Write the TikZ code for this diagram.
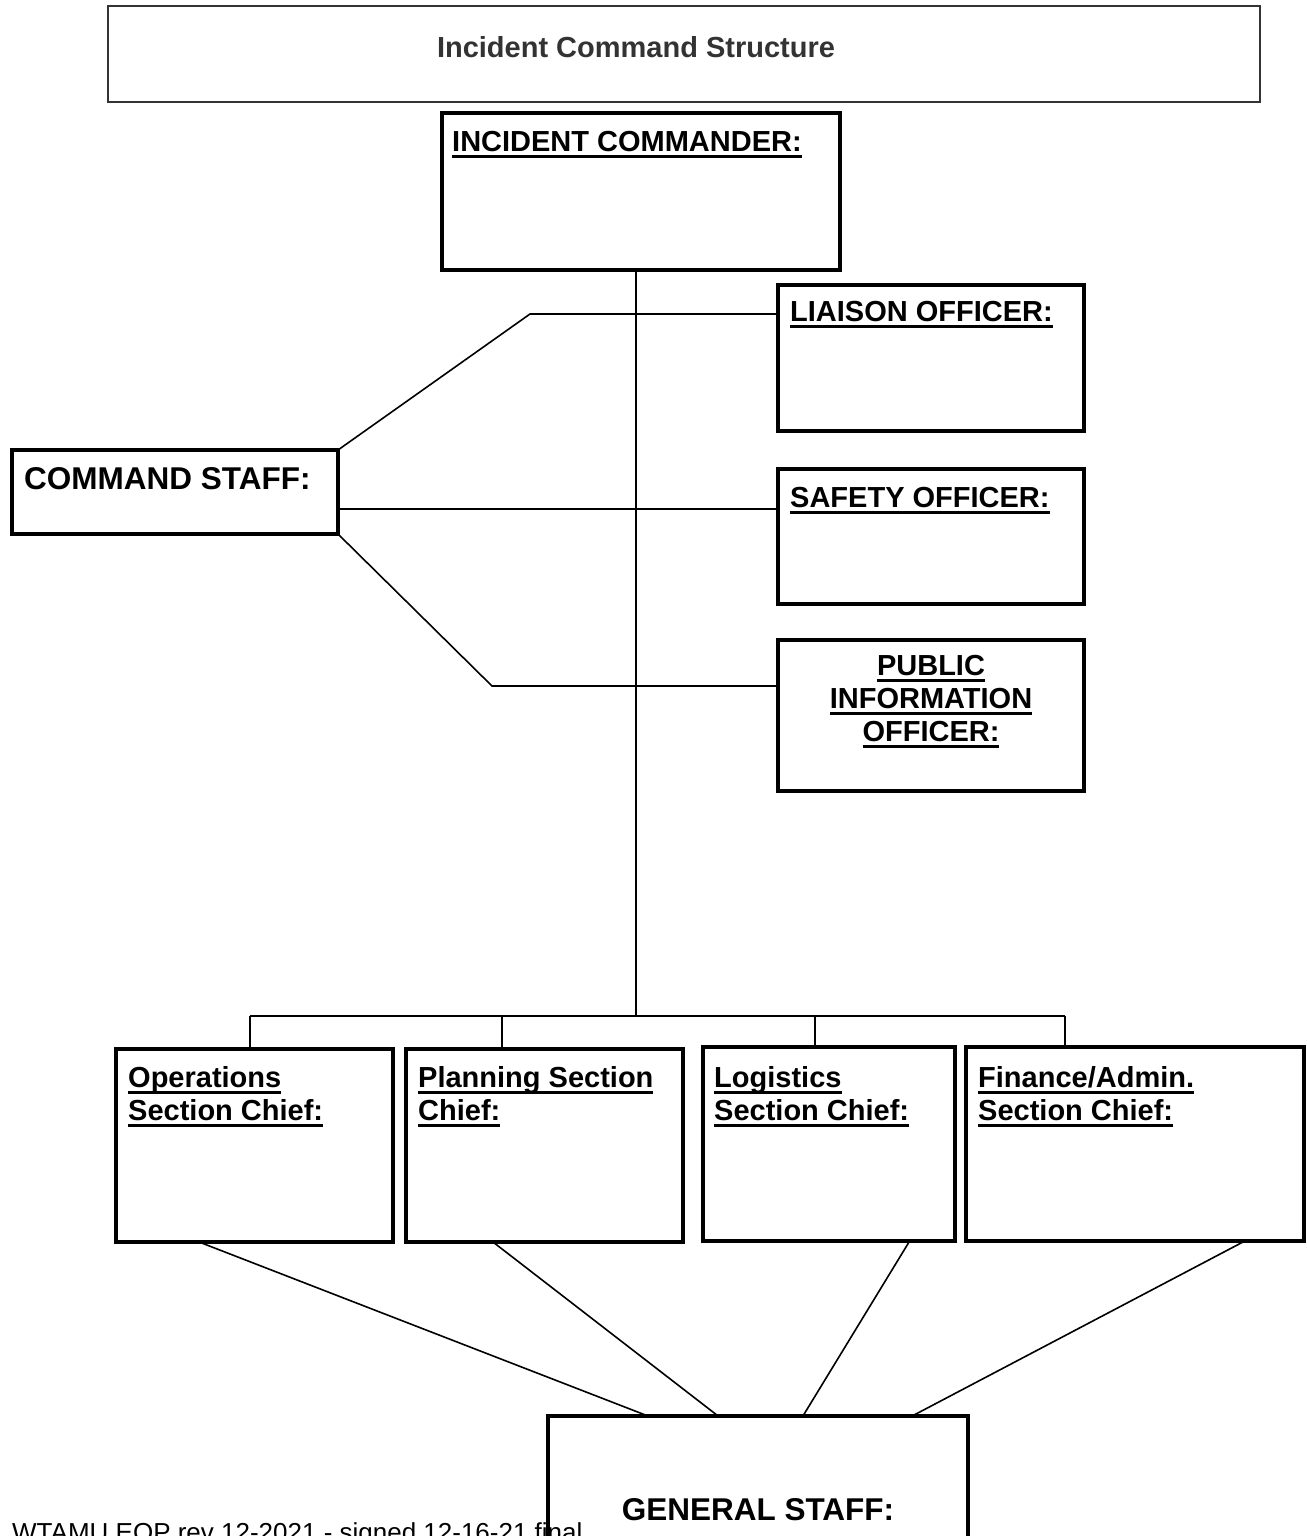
\documentclass[tikz,border=0pt]{standalone}
\usepackage{fontspec}
\setmainfont{Liberation Sans}
\usetikzlibrary{calc}
\newcommand{\ulx}[1]{\leavevmode\setbox0=\hbox{#1}\rlap{\copy0}\rule[-6.5pt]{\wd0}{3pt}}
\newcommand{\labfont}{\fontsize{29}{33}\selectfont\bfseries}
\newcommand{\bigfont}{\fontsize{31.5}{36}\selectfont\bfseries}
\begin{document}
\begin{tikzpicture}[x=1pt,y=-1pt,
  box/.style={draw, line width=3.5pt, inner sep=0pt, outer sep=0pt, anchor=north west},
  lab/.style={inner sep=0pt, anchor=north west, align=left, font=\labfont},
  conn/.style={line width=1.6pt},
]
\useasboundingbox (0,0) rectangle (1306,1536);
\clip (0,0) rectangle (1306,1536);
\fill[white] (0,0) rectangle (1306,1536);

% title
\node[draw=black!80, line width=2pt, minimum width=1152, minimum height=96, anchor=north west, inner sep=0pt] (title) at (107,5) {};
\node[anchor=base, inner sep=0pt, font=\labfont, text=black!80] (titleT) at (636,58) {Incident Command Structure};

% boxes
\node[box, minimum width=398, minimum height=157] (ic) at (442,113) {};
\node[box, minimum width=306, minimum height=146] (lo) at (778,285) {};
\node[box, minimum width=306, minimum height=135] (so) at (778,469) {};
\node[box, minimum width=306, minimum height=151] (pio) at (778,640) {};
\node[box, minimum width=326, minimum height=84] (cs) at (12,450) {};
\node[box, minimum width=277, minimum height=193] (ops) at (116,1049) {};
\node[box, minimum width=277, minimum height=193] (plan) at (406,1049) {};
\node[box, minimum width=252, minimum height=194] (log) at (703,1047) {};
\node[box, minimum width=338, minimum height=194] (fin) at (966,1047) {};
\node[box, minimum width=420, minimum height=200] (gs) at (548,1416) {};

% labels
\node[lab] (icT) at (452,131) {\ulx{INCIDENT COMMANDER:}};
\node[lab] (loT) at (790,301) {\ulx{LIAISON OFFICER:}};
\node[lab] (soT) at (790,487) {\ulx{SAFETY OFFICER:}};
\node[lab, anchor=north, align=center] (pioT) at (931,655) {\ulx{PUBLIC}\\\ulx{INFORMATION}\\\ulx{OFFICER:}};
\node[lab, font=\bigfont] (csT) at (24,467) {COMMAND STAFF:};
\node[lab] (opsT) at (128,1066) {\ulx{Operations}\\\ulx{Section Chief:}};
\node[lab] (planT) at (418,1066) {\ulx{Planning Section}\\\ulx{Chief:}};
\node[lab] (logT) at (714,1066) {\ulx{Logistics}\\\ulx{Section Chief:}};
\node[lab] (finT) at (978,1066) {\ulx{Finance/Admin.}\\\ulx{Section Chief:}};
\node[inner sep=0pt, anchor=base, font=\bigfont] (gsT) at (758,1520) {GENERAL STAFF:};

% connectors
\coordinate (trunk) at (636,1016);
\coordinate (barL) at (250,1016);
\coordinate (barR) at (1065,1016);
\coordinate (d2) at (502,1016);
\coordinate (d3) at (815,1016);
\draw[conn] (ic.south -| trunk) -- (trunk);
\draw[conn] (barL) -- (barR);
\draw[conn] (barL) -- (barL |- ops.north);
\draw[conn] (d2) -- (d2 |- plan.north);
\draw[conn] (d3) -- (d3 |- log.north);
\draw[conn] (barR) -- (barR |- fin.north);

\coordinate (k1) at (530,314);
\coordinate (k2) at (600,509);
\coordinate (k3) at (492,686);
\draw[conn] (cs.north east) -- (k1) -- (k1 -| lo.west);
\draw[conn] (k2 -| cs.east) -- (k2 -| so.west);
\draw[conn] (cs.south east) -- (k3) -- (k3 -| pio.west);

\draw[conn] ($(ops.south west)!0.30!(ops.south east)$) -- ($(gs.north west)!0.238!(gs.north east)$);
\draw[conn] ($(plan.south west)!0.314!(plan.south east)$) -- ($(gs.north west)!0.405!(gs.north east)$);
\draw[conn] ($(log.south west)!0.82!(log.south east)$) -- ($(gs.north west)!0.607!(gs.north east)$);
\draw[conn] ($(fin.south west)!0.825!(fin.south east)$) -- ($(gs.north west)!0.867!(gs.north east)$);

% footer
\node[anchor=base west, inner sep=0pt, font=\fontsize{26}{30}\selectfont] (foot) at (12,1541) {WTAMU EOP rev 12-2021 - signed 12-16-21 final};
\end{tikzpicture}
\end{document}
